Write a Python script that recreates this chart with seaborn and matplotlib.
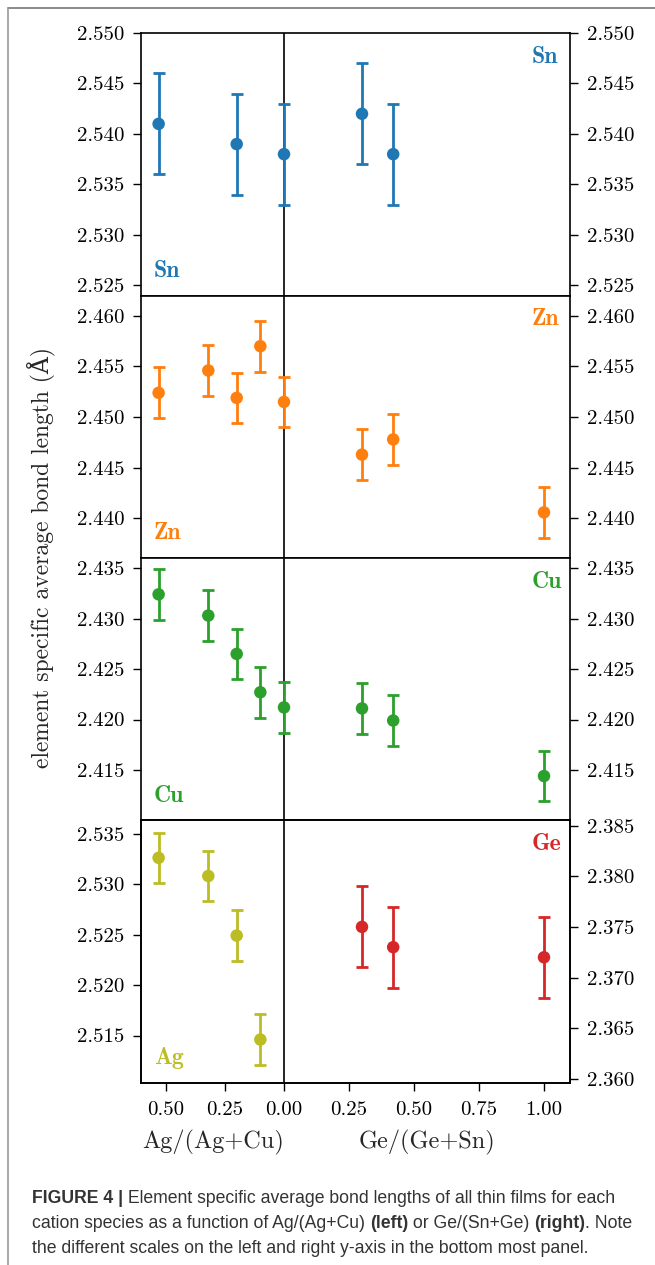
import matplotlib.pyplot as plt
import seaborn as sns
from matplotlib.lines import Line2D

# ---- data ----
# Ag/(Ag+Cu) on the left half, Ge/(Ge+Sn) on the right half
sn_ag_x = [0.53, 0.20, 0.0]
sn_ag_y = [2.541, 2.539, 2.538]
sn_ag_err = [0.005, 0.005, 0.005]
sn_ge_x = [0.30, 0.42]
sn_ge_y = [2.542, 2.538]
sn_ge_err = [0.005, 0.005]

zn_ag_x = [0.53, 0.32, 0.20, 0.10, 0.0]
zn_ag_y = [2.4524, 2.4546, 2.4519, 2.4570, 2.4515]
zn_ag_err = [0.0025, 0.0025, 0.0025, 0.0025, 0.0025]
zn_ge_x = [0.30, 0.42, 1.0]
zn_ge_y = [2.4463, 2.4478, 2.4406]
zn_ge_err = [0.0025, 0.0025, 0.0025]

cu_ag_x = [0.53, 0.32, 0.20, 0.10, 0.0]
cu_ag_y = [2.4324, 2.4303, 2.4265, 2.4227, 2.4212]
cu_ag_err = [0.0025, 0.0025, 0.0025, 0.0025, 0.0025]
cu_ge_x = [0.30, 0.42, 1.0]
cu_ge_y = [2.4211, 2.4199, 2.4144]
cu_ge_err = [0.0025, 0.0025, 0.0025]

ag_x = [0.53, 0.32, 0.20, 0.10]
ag_y = [2.5326, 2.5308, 2.5249, 2.5146]
ag_err = [0.0025, 0.0025, 0.0025, 0.0025]

ge_x = [0.30, 0.42, 1.0]
ge_y = [2.3750, 2.3730, 2.3720]
ge_err = [0.004, 0.004, 0.004]

x_ticks_ag = [0.50, 0.25]
x_ticks_ge = [0.00, 0.25, 0.50, 0.75, 1.00]

sn_ticks = [2.525, 2.530, 2.535, 2.540, 2.545, 2.550]
zn_ticks = [2.440, 2.445, 2.450, 2.455, 2.460]
cu_ticks = [2.415, 2.420, 2.425, 2.430, 2.435]
ag_ticks = [2.515, 2.520, 2.525, 2.530, 2.535]
ge_ticks = [2.360, 2.365, 2.370, 2.375, 2.380, 2.385]

# the left half of the x axis is drawn compressed
AG_SCALE = 0.91

C_SN = '#1f77b4'
C_ZN = '#ff7f0e'
C_CU = '#2ca02c'
C_AG = '#bcbd22'
C_GE = '#d62728'

sns.set_theme(style='ticks')
plt.rcParams['font.family'] = ['cmr10', 'DejaVu Serif']
plt.rcParams['axes.formatter.use_mathtext'] = True
plt.rcParams['axes.edgecolor'] = 'black'

TICK_FS = 15
LAB_FS = 17
TICK_KW = dict(direction='out', length=6, width=1, pad=6,
               labelsize=TICK_FS, colors='black')


def draw(ax, xs, ys, errs, color, left):
    xs = [-AG_SCALE * v if left else v for v in xs]
    ax.errorbar(xs, ys, yerr=errs, fmt='none', ecolor=color,
                elinewidth=2, capsize=4.3, capthick=2, zorder=3)
    sns.scatterplot(x=xs, y=ys, ax=ax, color=color, s=81,
                    edgecolor='none', zorder=4, legend=False)


def tag(ax, name, color, right):
    if right:
        ax.text(0.911, 0.952, name, transform=ax.transAxes, color=color,
                fontsize=LAB_FS, family=['cmb10'], va='top', ha='left')
    else:
        ax.text(0.03, 0.072, name, transform=ax.transAxes, color=color,
                fontsize=LAB_FS, family=['cmb10'], va='baseline', ha='left')


fig = plt.figure(figsize=(6.55, 12.65), dpi=100)
axes = fig.subplots(4, 1, sharex=True)
fig.subplots_adjust(left=0.2153, right=0.8702, top=0.9739, bottom=0.1439,
                    hspace=0)

panels = [
    (axes[0], (2.524, 2.550), sn_ticks, C_SN, 'Sn',
     (sn_ag_x, sn_ag_y, sn_ag_err), (sn_ge_x, sn_ge_y, sn_ge_err)),
    (axes[1], (2.4361, 2.462), zn_ticks, C_ZN, 'Zn',
     (zn_ag_x, zn_ag_y, zn_ag_err), (zn_ge_x, zn_ge_y, zn_ge_err)),
    (axes[2], (2.410, 2.436), cu_ticks, C_CU, 'Cu',
     (cu_ag_x, cu_ag_y, cu_ag_err), (cu_ge_x, cu_ge_y, cu_ge_err)),
]

for ax, ylim, ticks, color, name, left_s, right_s in panels:
    draw(ax, *left_s, color, True)
    draw(ax, *right_s, color, False)
    ax.set_ylim(*ylim)
    ax.set_yticks(ticks)
    ax.set_yticklabels([f'{t:.3f}' for t in ticks])
    ax.axvline(0, color='black', lw=1.2, zorder=2)
    ax.tick_params(axis='y', left=True, right=True, labelleft=True,
                   labelright=True, **TICK_KW)
    ax.tick_params(axis='x', bottom=False, labelbottom=False)
    tag(ax, name, color, False)
    tag(ax, name, color, True)

# bottom panel: Ag on the left axis, Ge on a twin right axis
ax = axes[3]
ax2 = ax.twinx()
draw(ax, ag_x, ag_y, ag_err, C_AG, True)
draw(ax2, ge_x, ge_y, ge_err, C_GE, False)
ax.set_ylim(2.5103, 2.5363)
ax.set_yticks(ag_ticks)
ax.set_yticklabels([f'{t:.3f}' for t in ag_ticks])
ax2.set_ylim(2.3596, 2.3855)
ax2.set_yticks(ge_ticks)
ax2.set_yticklabels([f'{t:.3f}' for t in ge_ticks])
ax.axvline(0, color='black', lw=1.2, zorder=2)
ax.tick_params(axis='y', **TICK_KW)
ax2.tick_params(axis='y', **TICK_KW)
tag(ax, 'Ag', C_AG, False)
tag(ax2, 'Ge', C_GE, True)

xt = [-AG_SCALE * v for v in x_ticks_ag] + x_ticks_ge
xl = [f'{v:.2f}' for v in x_ticks_ag] + [f'{v:.2f}' for v in x_ticks_ge]
ax.set_xticks(xt)
ax.set_xticklabels(xl)
ax.set_xlim(-0.55, 1.1)
ax.tick_params(axis='x', bottom=True, labelbottom=True,
               **dict(TICK_KW, pad=7))
for a in list(axes) + [ax2]:
    for sp in a.spines.values():
        sp.set_visible(True)
        sp.set_color('black')
        sp.set_linewidth(1.2)

fig.text(213 / 655, 1 - 1142 / 1265, 'Ag/(Ag+Cu)', fontsize=17.5,
         ha='center', va='center')
fig.text(427 / 655, 1 - 1142 / 1265, 'Ge/(Ge+Sn)', fontsize=17.5,
         ha='center', va='center')
fig.text(42 / 655, 1 - 558 / 1265,
         'element specific average bond length (Å)', fontsize=17,
         rotation=90, ha='center', va='center')

# outer frame of the figure page
fig.add_artist(Line2D([7.5 / 655, 1], [1 - 8 / 1265, 1 - 8 / 1265],
                      transform=fig.transFigure, color='#777777', lw=1.2))
fig.add_artist(Line2D([7.5 / 655, 7.5 / 655], [0, 1 - 8 / 1265],
                      transform=fig.transFigure, color='#999999', lw=1.2))

# caption with bold pieces
CAP_FS = 12.7
CAP_COLOR = '#333333'
cap_lines = [
    (1203, [('FIGURE 4 |', 'bold'),
            (' Element specific average bond lengths of all thin films for each', 'normal')]),
    (1228, [('cation species as a function of Ag/(Ag+Cu) ', 'normal'),
            ('(left)', 'bold'), (' or Ge/(Sn+Ge) ', 'normal'),
            ('(right)', 'bold'), ('. Note', 'normal')]),
    (1253, [('the different scales on the left and right y-axis in the bottom most panel.', 'normal')]),
]
for ypx, parts in cap_lines:
    prev = fig.text(32 / 655, 1 - ypx / 1265, parts[0][0], fontsize=CAP_FS,
                    fontweight=parts[0][1], family=['Liberation Sans'],
                    color=CAP_COLOR, va='baseline', ha='left')
    for s, w in parts[1:]:
        prev = fig.add_artist(plt.Annotation(
            s, xy=(1, 0), xycoords=prev, va='bottom', ha='left',
            fontsize=CAP_FS, fontweight=w, family=['Liberation Sans'],
            color=CAP_COLOR, annotation_clip=False))

fig.savefig('out.png', dpi=100)
